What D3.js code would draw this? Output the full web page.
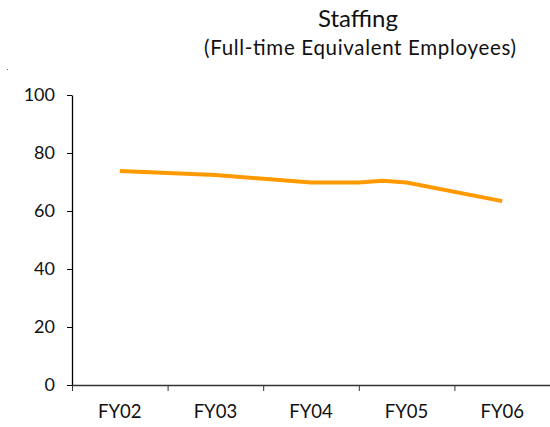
<!DOCTYPE html>
<html>
<head>
<meta charset="utf-8">
<script src="https://cdn.jsdelivr.net/npm/d3@7"></script>
<style>
  body { margin: 0; background: #fff; }
  text { font-family: Lato, "Open Sans", sans-serif; fill: #111; }
</style>
</head>
<body>
<svg id="chart" width="550" height="427"></svg>
<script>
// Fiscal years shown on the axis
var fiscalYears = ["FY02", "FY03", "FY04", "FY05", "FY06"];
var yearIndex = [2002, 2003, 2004, 2005, 2006];

// Staffing readings (position in fiscal-year units, FTE value)
var readingAt = [2002, 2003, 2004, 2004.5, 2004.75, 2005, 2006];
var fteValues = [73.8, 72.4, 69.8, 69.8, 70.4, 69.8, 63.4];

var yTicks = [0, 20, 40, 60, 80, 100];

var svg = d3.select("#chart");
var margin = {top: 95, right: 0, bottom: 42, left: 72};
var width = +svg.attr("width") - margin.left - margin.right;
var height = +svg.attr("height") - margin.top - margin.bottom;
var g = svg.append("g").attr("transform", "translate(" + margin.left + "," + margin.top + ")");

var x = d3.scaleLinear().domain([2001.5, 2006.5]).range([0, width]);
var y = d3.scaleLinear().domain([0, 100]).range([height, 0]);

// Y axis
var yAxis = g.append("g")
    .call(d3.axisLeft(y).tickValues(yTicks).tickSize(5).tickPadding(12).tickSizeOuter(0));
yAxis.select(".domain").attr("stroke", "#000").attr("stroke-width", 1.3);
yAxis.selectAll(".tick line").attr("stroke", "#000");
yAxis.selectAll("text").style("font-size", "18px").style("font-family", "Lato, sans-serif").attr("fill", "#111");

// X axis: ticks between categories, labels centered
var boundaries = d3.range(2001.5, 2006.5, 1);
var xAxis = g.append("g")
    .attr("transform", "translate(0," + height + ")")
    .call(d3.axisBottom(x).tickValues(boundaries).tickSize(6).tickFormat("").tickSizeOuter(0));
xAxis.select(".domain").attr("stroke", "#333").attr("stroke-width", 1.3);
xAxis.selectAll(".tick line").attr("stroke", "#333");

g.selectAll(".xlabel")
    .data(fiscalYears)
    .enter().append("text")
    .attr("class", "xlabel")
    .attr("x", (d, i) => x(yearIndex[i]))
    .attr("y", height + 33)
    .style("text-anchor", "middle")
    .style("font-size", "18.5px")
    .text(d => d);

// Staffing line
var pts = readingAt.map((p, i) => ({p: p, v: fteValues[i]}));
var line = d3.line().x(d => x(d.p)).y(d => y(d.v));
g.append("path")
    .datum(pts)
    .attr("fill", "none")
    .attr("stroke", "#ff9900")
    .attr("stroke-width", 4)
    .attr("stroke-linejoin", "round")
    .attr("d", line);

// Titles
svg.append("text")
    .attr("x", 358)
    .attr("y", 27)
    .style("text-anchor", "middle")
    .style("font-size", "24px")
    .text("Staffing");

svg.append("text")
    .attr("x", 204)
    .attr("y", 55)
    .attr("textLength", 312)
    .attr("lengthAdjust", "spacing")
    .style("font-size", "20.5px")
    .text("(Full-time Equivalent Employees)");

// stray speck at the left edge
svg.append("rect").attr("x", 7).attr("y", 69).attr("width", 1).attr("height", 1).attr("fill", "#666");
</script>
</body>
</html>
